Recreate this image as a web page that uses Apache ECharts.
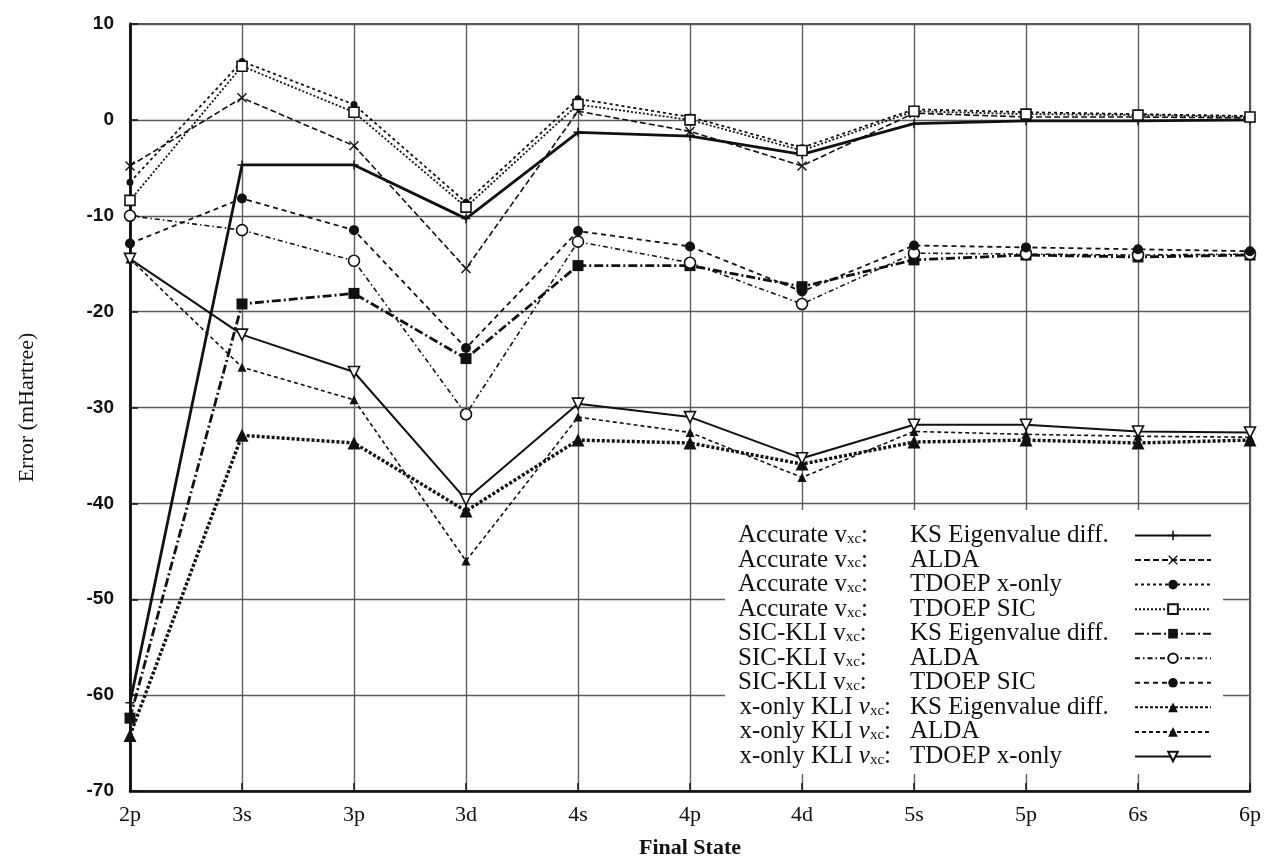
<!DOCTYPE html>
<html>
<head>
<meta charset="utf-8">
<script src="https://cdn.jsdelivr.net/npm/echarts@6/dist/echarts.min.js"></script>
<style>
  html, body { margin: 0; padding: 0; background: #fff; }
  #chart { width: 1267px; height: 864px; }
</style>
</head>
<body>
<div id="chart"></div>
<script>
// Final states of the transitions
const states = ['2p', '3s', '3p', '3d', '4s', '4p', '4d', '5s', '5p', '6s', '6p'];

// Y axis range and ticks (mHartree)
const yMin = -70;
const yMax = 10;
const yStep = 10;

// Errors (mHartree) per final state
const accKs       = [-60.8, -4.7, -4.7, -10.3, -1.3, -1.7, -3.6, -0.4, -0.1, -0.1, 0.0];
const accAlda     = [-4.8, 2.3, -2.7, -15.5, 0.9, -1.2, -4.8, 0.7, 0.3, 0.3, 0.2];
const accTdoepX   = [-6.5, 6.1, 1.6, -8.6, 2.2, 0.3, -2.9, 1.1, 0.8, 0.6, 0.4];
const accTdoepSic = [-8.4, 5.6, 0.8, -9.1, 1.6, 0.0, -3.2, 0.9, 0.6, 0.5, 0.3];

const sicKs       = [-62.4, -19.2, -18.1, -24.9, -15.2, -15.2, -17.4, -14.6, -14.1, -14.3, -14.1];
const sicAlda     = [-10.0, -11.5, -14.7, -30.7, -12.7, -14.9, -19.2, -13.9, -14.0, -14.1, -14.0];
const sicTdoepSic = [-12.9, -8.2, -11.5, -23.8, -11.6, -13.2, -17.9, -13.1, -13.3, -13.5, -13.7];

const xKs         = [-64.2, -32.9, -33.7, -40.8, -33.4, -33.7, -35.9, -33.6, -33.4, -33.7, -33.4];
const xAlda       = [-14.5, -25.8, -29.2, -46.0, -31.0, -32.6, -37.3, -32.5, -32.8, -33.0, -33.1];
const xTdoepX     = [-14.5, -22.4, -26.3, -39.6, -29.6, -31.0, -35.3, -31.8, -31.8, -32.5, -32.6];

// Legend columns: potential group and method
const groups  = ['Accurate', 'SIC-KLI', 'x-only KLI'];
const methods = ['KS Eigenvalue diff.', 'ALDA', 'TDOEP x-only', 'TDOEP SIC'];

const SERIF = '"Liberation Serif", "Times New Roman", serif';
const SANS = '"Liberation Sans", Arial, sans-serif';
const INK = '#111';
const GRID = '#5c5c5c';

// Filled marker outlines
const PLUS  = 'path://M4.2,0H5.8V4.2H10V5.8H5.8V10H4.2V5.8H0V4.2H4.2Z';
const CROSS = 'path://M1,0L5,4L9,0L10,1L6,5L10,9L9,10L5,6L1,10L0,9L4,5L0,1Z';

const seriesDefs = [
  { g: 0, m: 0, data: accKs,       dash: 'solid',        w: 2.8, symbol: PLUS,       size: 9,  fill: INK },
  { g: 0, m: 1, data: accAlda,     dash: [6, 3],         w: 1.6, symbol: CROSS,      size: 10, fill: INK },
  { g: 0, m: 2, data: accTdoepX,   dash: [3, 3],         w: 1.8, symbol: 'circle',   size: 7,  fill: INK },
  { g: 0, m: 3, data: accTdoepSic, dash: [2, 2],         w: 1.8, symbol: 'rect',     size: 10, fill: '#fff' },
  { g: 1, m: 0, data: sicKs,       dash: [9, 3, 2, 3],   w: 2.8, symbol: 'rect',     size: 11, fill: INK },
  { g: 1, m: 1, data: sicAlda,     dash: [5, 3, 1.5, 3], w: 1.6, symbol: 'circle',   size: 11, fill: '#fff' },
  { g: 1, m: 3, data: sicTdoepSic, dash: [5, 4],         w: 1.8, symbol: 'circle',   size: 10, fill: INK },
  { g: 2, m: 0, data: xKs,         dash: [3, 2],         w: 3.4, symbol: 'triangle', size: 13, fill: INK },
  { g: 2, m: 1, data: xAlda,       dash: [4, 3],         w: 1.6, symbol: 'triangle', size: 9,  fill: INK },
  { g: 2, m: 2, data: xTdoepX,     dash: 'solid',        w: 2.0, symbol: 'triangle', size: 11, fill: '#fff', rotate: 180 }
];

// Legend text layout: spacer tokens keep the method column and the icons lined up
const LEG_FONT = 25;
const SUB_FONT = 15;
const COL1 = 172;
const COL2 = 220;
const measureCtx = document.createElement('canvas').getContext('2d');
function textWidth(str, size) {
  measureCtx.font = size + 'px ' + SERIF;
  return measureCtx.measureText(str).width;
}

const rich = {
  g:  { fontFamily: SERIF, fontSize: LEG_FONT, lineHeight: 22, color: INK },
  gi: { fontFamily: SERIF, fontSize: LEG_FONT, lineHeight: 22, color: INK, fontStyle: 'italic' },
  s:  { fontFamily: SERIF, fontSize: SUB_FONT, lineHeight: 6, color: INK, verticalAlign: 'bottom' }
};
groups.forEach((grp, i) => {
  const used = textWidth(grp + ' v:', LEG_FONT) + textWidth('xc', SUB_FONT);
  rich['p' + i] = { fontSize: 1, lineHeight: 22, width: Math.max(4, COL1 - used) };
});
methods.forEach((m, i) => {
  rich['q' + i] = { fontSize: 1, lineHeight: 22, width: Math.max(2, COL2 - textWidth(m, LEG_FONT)) };
});

function seriesName(d) {
  return groups[d.g] + ' vxc: ' + methods[d.m];
}

const series = seriesDefs.map(d => ({
  name: seriesName(d),
  type: 'line',
  data: d.data,
  symbol: d.symbol,
  symbolSize: d.size,
  symbolRotate: d.rotate || 0,
  showSymbol: true,
  animation: false,
  lineStyle: { color: INK, width: d.w, type: d.dash },
  itemStyle: { color: d.fill, borderColor: INK, borderWidth: d.fill === INK ? 0 : 1.6 }
}));

const chart = echarts.init(document.getElementById('chart'), null, { renderer: 'canvas' });
chart.setOption({
  backgroundColor: '#fff',
  animation: false,
  grid: {
    left: 130, right: 17, top: 24, bottom: 71,
    show: true, borderColor: '#222', borderWidth: 1.6, backgroundColor: 'transparent'
  },
  xAxis: {
    type: 'category',
    data: states,
    boundaryGap: false,
    name: 'Final State',
    nameLocation: 'middle',
    nameGap: 46,
    nameTextStyle: { fontFamily: SERIF, fontSize: 22, fontWeight: 'bold', color: INK },
    axisLine: { onZero: false, lineStyle: { color: INK, width: 2.5 } },
    axisTick: { show: true, inside: true, length: 8, lineStyle: { color: INK, width: 1.5 } },
    axisLabel: { fontFamily: SERIF, fontSize: 22, color: INK, margin: 13 },
    splitLine: { show: true, lineStyle: { color: GRID, width: 1.4 } }
  },
  yAxis: {
    type: 'value',
    min: yMin, max: yMax, interval: yStep,
    name: 'Error (mHartree)',
    nameLocation: 'middle',
    nameRotate: 90,
    nameGap: 92,
    nameTextStyle: { fontFamily: SERIF, fontSize: 22, color: INK },
    axisLine: { show: true, onZero: false, lineStyle: { color: INK, width: 2.8 } },
    axisTick: { show: true, inside: true, length: 8, lineStyle: { color: INK, width: 1.5 } },
    axisLabel: { fontFamily: SANS, fontSize: 19, fontWeight: 'bold', color: INK, margin: 16 },
    splitLine: { show: true, lineStyle: { color: GRID, width: 1.4 } }
  },
  legend: {
    orient: 'vertical',
    left: 725, top: 510,
    padding: [13, 11, 5, 13],
    backgroundColor: '#fff',
    align: 'right',
    itemWidth: 76, itemHeight: 12,
    itemGap: -0.45,
    selectedMode: false,
    data: seriesDefs.map(seriesName),
    formatter: function (name) {
      const d = seriesDefs.find(s => seriesName(s) === name);
      const vStyle = d.g === 2 ? 'gi' : 'g';
      return '{g|' + groups[d.g] + ' }{' + vStyle + '|v}{s|xc}{g|:}{p' + d.g + '| }' +
             '{g|' + methods[d.m] + '}{q' + d.m + '| }';
    },
    textStyle: { rich: rich }
  },
  series: series
});
</script>
</body>
</html>
